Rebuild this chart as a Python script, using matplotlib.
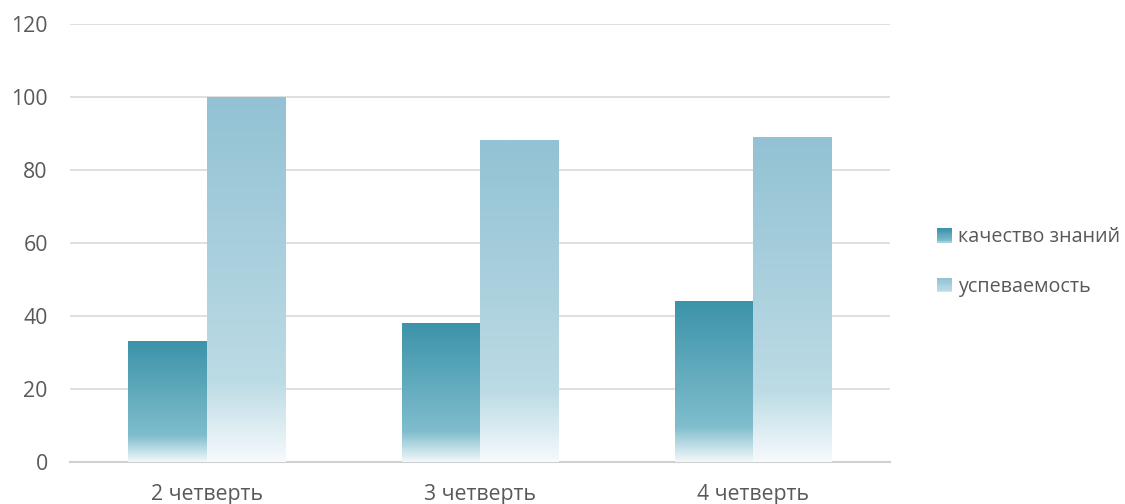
import numpy as np
import matplotlib
matplotlib.use("Agg")
import matplotlib.pyplot as plt
from matplotlib.colors import LinearSegmentedColormap
from matplotlib.patches import Rectangle
from matplotlib.legend_handler import HandlerBase

plt.rcParams['font.family'] = ['Open Sans', 'DejaVu Sans']

categories = ["2 четверть", "3 четверть", "4 четверть"]
series_names = ["качество знаний", "успеваемость"]
quality = [33, 38, 44]
progress = [100, 88, 89]
yticks = [0, 20, 40, 60, 80, 100, 120]

grad1 = [(0.0, "#3c93a9"), (0.78, "#7fbdcd"), (1.0, "#f2f8fa")]
grad2 = [(0.0, "#92c2d4"), (0.78, "#bcdbe5"), (1.0, "#f6fafc")]
cmaps = [LinearSegmentedColormap.from_list("g%d" % i, g) for i, g in enumerate([grad1, grad2])]

fig = plt.figure(figsize=(11.25, 5.04), dpi=100)
ax = fig.add_axes([0.0622, 0.0833, 0.7289, 0.869])

x = np.arange(len(categories))
w = 0.286
grad_img = np.linspace(0, 1, 256).reshape(-1, 1)

for i, (vals, cm) in enumerate(zip([quality, progress], cmaps)):
    bars = ax.bar(x + (i - 0.5) * w, vals, width=w, color="none", edgecolor="none", zorder=3)
    for b in bars:
        x0, y0 = b.get_x(), b.get_y()
        ww, hh = b.get_width(), b.get_height()
        ax.imshow(grad_img, cmap=cm, aspect="auto", extent=(x0, x0 + ww, y0, y0 + hh),
                  origin="upper", zorder=3, interpolation="bilinear")

ax.set_xlim(-0.5, 2.5)
ax.set_ylim(0, 120)
ax.set_yticks(yticks)
ax.set_xticks(x)
ax.set_xticklabels(categories)
ax.grid(axis="y", color="#dcdcdc", linewidth=1.3, zorder=0)
ax.set_axisbelow(True)
for s in ["top", "right", "left"]:
    ax.spines[s].set_visible(False)
ax.spines["bottom"].set_color("#d0d0d0")
ax.spines["bottom"].set_linewidth(1.5)
ax.tick_params(axis="both", length=0, labelsize=15.3, labelcolor="#595959")
ax.tick_params(axis="y", pad=16)
ax.tick_params(axis="x", pad=16)


class GradHandler(HandlerBase):
    def __init__(self, cmap):
        super().__init__()
        self.cmap = cmap

    def create_artists(self, legend, orig_handle, xdescent, ydescent, width, height, fontsize, trans):
        arts = []
        n = 12
        for k in range(n):
            c = self.cmap(k / (n - 1) * 0.85)
            r = Rectangle((-xdescent, -ydescent + height * (1 - (k + 1) / n)), width, height / n,
                          facecolor=c, edgecolor="none", transform=trans)
            arts.append(r)
        return arts


h1 = Rectangle((0, 0), 1, 1)
h2 = Rectangle((0, 0), 1, 1)
leg = fig.legend([h1, h2], series_names, loc="center left", bbox_to_anchor=(0.817, 0.48),
                 frameon=False, fontsize=14.2, labelcolor="#595959",
                 handler_map={h1: GradHandler(cmaps[0]), h2: GradHandler(cmaps[1])},
                 handlelength=0.75, handleheight=0.75, handletextpad=0.3, labelspacing=1.5)

fig.savefig("out.png", dpi=100)
